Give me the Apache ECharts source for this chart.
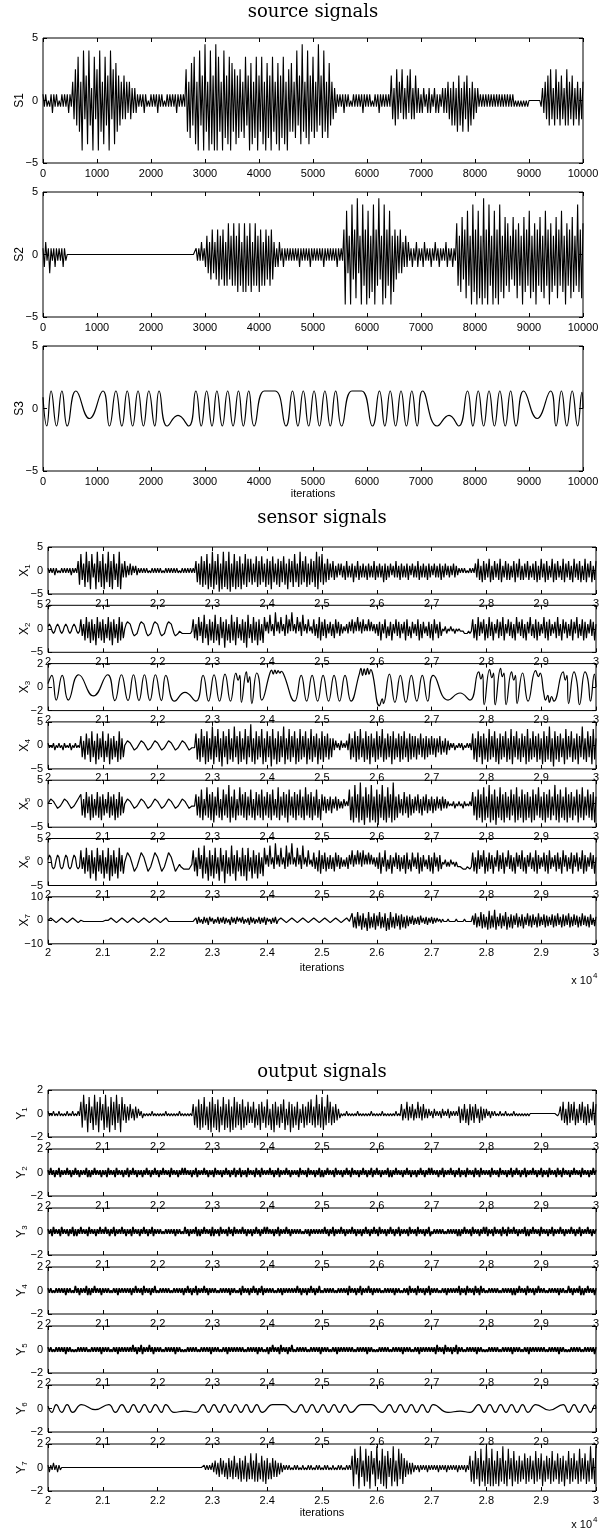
<!DOCTYPE html>
<html>
<head>
<meta charset="utf-8">
<script src="https://cdn.jsdelivr.net/npm/echarts@6/dist/echarts.min.js"></script>
<style>
  html, body { margin: 0; padding: 0; background: #fff; }
  #chart { width: 604px; height: 1529px; }
</style>
</head>
<body>
<div id="chart"></div>
<script>
// Dense signals: one char per sample (25 iterations apart).
// '0'..'9' = +0..+9 steps, 'a'..'i' = -1..-9 steps.
var S1 = ["1a1a0a1b1a1a0a1a1a1b1a", "3c5d", "7e3h8c4g8d2h7c5h8e3g7d4h8c5g6e", "4d3c4c3b3c2b2b",
  "1a1a1b1a0a1a1a1b1a1a0a1a1a1a1b1a1a1a",
  "5e3f6d7g3h8d4h9e3h8g4h9h7e3h8f4g7h6e5g4f",
  "5e3f7d4h6g3f7h4e7g3h6f4h7e3g6h4f7g3h5e",
  "6e3f8d4g9e3f8g4e7f3e9d4f8e3f6d", "3c2b",
  "1a1a1b1a1a0a1a1a1a1b1a1a1a0a1a1b1a1a1a1a",
  "4c2d5c3b5c2c4b5c2c4b", "2b1b2a1b2b1a2b1b1a2b", "2b3c2d3d2e4d2e3c4e2d3c2b2a",
  "1a1a1a1a1a1a1a1a1a1a1a1a1a0a0a0a0a0a00000000",
  "0a2b3c4d5c2d5c3d4c2d5d3c4d2c3d2c3"].join("");

var S2 = ["1b2a1c1a1b1a1a1b1a",
  "000000000000", "000000000000", "000000000000", "000000000000",
  "000000000000", "000000000000", "000000000000", "000000000000",
  "1a1a2a1b",
  "3c2d4c2d4e3d4e2e5d3e5e3f5e2f5f3e5f2e5e3f4e2e4d3e4d",
  "2b1b2a1b1a1a",
  "1a1a1a1b1a1a1a1b1a1a1a1a1b1a1a1a1a1b1a1a",
  "4h7c3h8d4g9c3h8e4h7g3f8h4e9d3h8g4e7h3f",
  "4d3c4c2b3b",
  "2a1b1a2b1a1b2a1a1b1a2a1b1a1a2b1a1b1a",
  "5e3f6d4g7e3h8f4h7g3h9g4h8e3h7g4h8f3g6e",
  "5f3d6e4g5e3h6f4e7g3f5h4e6f3g7e4h5f3e6g4e7f3h5e4g6f3e8f4g5"].join("");

// S3: extrema of the slow source [iteration, value]
var S3 = [[0, 0.9], [70, -1.4], [150, 1.4], [250, -1.4], [350, 1.4], [450, -1.4], [610, 1.4],
  [860, -0.8], [1110, 1.4], [1230, -1.4], [1350, 1.4], [1460, -1.4], [1560, 1.4], [1660, -1.4],
  [1760, 1.4], [1860, -1.4], [1960, 1.4], [2070, -1.4], [2150, 1.4], [2300, -1.4], [2500, -0.55],
  [2700, -1.4], [2830, 1.4], [2930, -1.4], [3030, 1.4], [3130, -1.4], [3220, 1.4], [3320, -1.4],
  [3420, 1.4], [3520, -1.4], [3620, 1.4], [3710, -1.4], [3810, 1.4], [3910, -1.4], [4100, 1.4],
  [4300, 1.4], [4500, -1.4], [4620, 1.4], [4720, -1.4], [4820, 1.4], [4920, -1.4], [5020, 1.4],
  [5120, -1.4], [5220, 1.4], [5320, -1.4], [5420, 1.4], [5530, -1.4], [5720, 1.4], [5900, 1.4],
  [6100, -1.4], [6230, 1.4], [6330, -1.4], [6430, 1.4], [6530, -1.4], [6630, 1.4], [6730, -1.4],
  [6830, 1.4], [6930, -1.4], [7030, 1.4], [7300, -1.4], [7520, -0.55], [7700, -1.4], [7860, 1.4],
  [7960, -1.4], [8060, 1.4], [8160, -1.4], [8260, 1.4], [8360, -1.4], [8460, 1.4], [8560, -1.4],
  [8660, 1.4], [8760, -1.4], [8900, 1.4], [9150, -0.8], [9400, 1.4], [9500, -1.4], [9600, 1.4],
  [9700, -1.4], [9800, 1.4], [9900, -1.4], [9980, 1.3], [10000, 0]];

var X1 = ["1a1a1b1a0a1a1a1a1b1a1a",
  "4f7d3g8e4h7c3h8e4g7h3e8g4h7d3g8h",
  "3c4c2b3b2a2b",
  "1a1a1a1a0a1a1a1a1a0a1a1a1a1a1a0a1a1a1a1a1a",
  "4e3f6g4f7h3g8h4f7i3h8g4h8i3g7h4g6h3f7g5e",
  "5f3e6g4f6e3g5f4h6e3f5g4e6f3h5e4g7e3g8f4e6g3f5e4g8h6e",
  "7f3e5d3c4d2c3b",
  "3c2d4c2c3e2c4d2c3c2d3c2c4d2c3c2e3d2c3b2c4c2d3c2c3d2b3c2c4d2c3c2d3c2b3c2c3d2c3b2c2b3c2b",
  "1a1a1a0a1a1a",
  "3c5d2e4d3c5e2d4c3d5e2c4d3d2c4e3c5d2d3c4d2c3d4e2d5c3e4d2c5e3d4c2d5e3c4d2e5c3d4e2d5e3c4e2d4"].join("");

var X2 = ["121aba121aba121aba121aba",
  "4c2e5d3f4e2g5d3e4f2d5e3g4d2f5e3d",
  "023320bccb023320bccb023320bccb023320bccbaabbbbbbba",
  "4d2e5c3f6d2g4e3f6e2g5d3h4e2f6e3g5d2e4f3h6d2f5e3g4e2f",
  "5a3b6a2c7a3b5a2c6b4a7a2b5a3c6a2b4a1b",
  "4c2d5e3c4d2b3c2d4b3c2b1a2b",
  "3a4b3a5a3b4a2a4a3a2b",
  "2c3e2b4d1c3e2b4c3d2b3e4c1d3b2c4e2d3b1c3d2e4b2d3c",
  "0a1b0a1a0b0a0aaabbbaba",
  "4d2e5c3b4e2d5c3e2b4d3c5e2b4c3d2e5b3c4d2e3b5c2d4e3c2b5d3e4c2b3d5c2e4b3d2c4e3b5d2c4e3d2b4c3e2"].join("");

var X3 = [[20000, 0.3], [20070, 1.0], [20150, -1.1], [20260, 1.0], [20370, -1.1], [20560, 1.05],
  [20830, -0.75], [21090, 1.05], [21220, -1.15], [21340, 1.05], [21460, -1.15], [21560, 1.05],
  [21660, -1.15], [21760, 1.05], [21860, -1.15], [21960, 1.05], [22070, -1.15], [22150, 1.0],
  [22310, -1.2], [22500, -0.45], [22700, -1.2], [22830, 1.0], [22930, -1.2], [23030, 1.05],
  [23130, -1.2], [23230, 1.1], [23330, -1.2], [23430, 1.2], [23470, 0.6], [23500, 1.0],
  [23530, -1.3], [23620, 1.3], [23650, 0.4], [23680, 0.9], [23720, -1.4], [23810, 1.2],
  [23850, 0.7], [23900, -1.1], [24050, 1.2], [24080, 1.45], [24110, 1.1], [24140, 1.45],
  [24170, 1.15], [24200, 1.4], [24230, 1.2], [24260, 1.35], [24300, 1.1], [24500, -1.2],
  [24620, 1.0], [24720, -1.2], [24820, 1.0], [24920, -1.2], [25020, 1.0], [25120, -1.2],
  [25220, 1.0], [25320, -1.2], [25420, 1.0], [25530, -1.2], [25680, 1.1], [25710, 1.6],
  [25740, 1.0], [25770, 1.55], [25800, 1.05], [25830, 1.6], [25860, 1.1], [25890, 1.5],
  [25920, 1.2], [26050, -1.6], [26100, -1.0], [26120, -1.4], [26230, 1.1], [26330, -1.3],
  [26430, 1.0], [26530, -1.3], [26630, 1.0], [26730, -1.2], [26830, 1.0], [26930, -1.2],
  [27030, 1.0], [27300, -1.1], [27520, -0.5], [27700, -1.1], [27860, 1.3], [27900, 0.7],
  [27930, 1.1], [27960, -1.5], [28060, 1.5], [28100, 0.8], [28130, 1.2], [28160, -1.5],
  [28260, 1.6], [28290, 0.9], [28320, 1.2], [28360, -1.5], [28460, 1.3], [28500, 0.6],
  [28530, 1.0], [28560, -1.4], [28660, 1.2], [28760, -1.2], [28900, 1.4], [28950, 0.9],
  [28980, 1.2], [29050, -0.6], [29080, -1.1], [29120, -0.7], [29150, -1.3], [29190, -0.8],
  [29230, -1.2], [29400, 1.3], [29440, 0.6], [29470, 1.0], [29500, -1.4], [29600, 1.3],
  [29650, 0.5], [29700, -1.5], [29800, 1.3], [29850, 0.7], [29900, -1.2], [29970, 1.1],
  [30000, 0]];

var X4 = ["1a0a1b0a1a0b1a0a1b0a1a0a",
  "4e2f5d3g6e2h5f3e6g2e5h3f4e2g6f3e",
  "012210abba012210abba012210abba012210abba012210abbaaa",
  "5f3g7e4h6g3f8h4e7g3i6e4h7f3g8e4h6g3f7h4e9g3h6f4e7h3g6e4i7f3h6g4e8h3f7g4e6h3g7f4e6h3f7g4e5h3f6g4e5f3e",
  "3b2a1b2a1a2b",
  "5f3e6g4f7e3g6f4h5e3g6f4e7g3f5e4h6f3e5g4f6e3g5f4e4f3d5e3f4e3d4d3e3c4d2c3d2b",
  "1a1b0a1a1b0a1a1b",
  "5f3g6e4h5f3g7f4e6g3h5f4e6g3f7h4e6f3g5e4h7g3f6e4g5f3h6g4f8g3i6f4g5e3h7f4e6g3f5h4e8f3g6e4h7f3"].join("");

var X5 = ["012210abba012210abba0122",
  "4e2f5d3g4f2e5f3g4e2d5f3e4g2f5e3d",
  "012210abba012210abba012210abba012210abba012210abbaaa",
  "4e3f6g2e7f4g5h3e7f2g6e4f8h3f6g2e7e4f5g3e6f2g5e4f6g3e5f4g6e2f7g3e5f4h6e3f5g4e6f3g7e4f5g3e6f2g",
  "4c3d2c3d2b3c2b1b2a1a",
  "6g3h8f4h9g3i7f4h8g3h6i4f8g3h7f4h9g3f",
  "4d2e5d3f4e2d3c4d2e3c4d2c3d2c3b2c3b2b",
  "1a0a1b0a1a0b1a0a1a",
  "5e3g6f4h7g3f8h4g6i3f7g4h5f3g6e4h7g3f6h4g5f3h6g4e7f3g5h4f6g3e8g4h6f3g7h4f5g3e6h4f7g3e6f4g5h3"].join("");

var X6 = ["132bcb132bcb132bcb132bcb",
  "5c2e6d3g5e2h6d3e5g2e6h3f5e2g6d3e",
  "024420bddb024420bddb024420bddb024420bddbabbcccccba",
  "5d2f6c3g7e2h5f3g6e2h6d3i5e2f7e3h5d2f6f3h6d2g5e3g4e2f",
  "6a3b7a2c8a3b6a2c7b4a8a2b6a3c7a2b5a1b",
  "4c2d5e3c4d2c3c2d4b3c2b1b2c",
  "3a5b3a5a4b5a3a4a3a2b",
  "2c4e2b5d1c3e2b4c3d2c3e4c1d4b2c4e2d3b1c3d2e4b2d3c",
  "0a1b0b1a0b0bbbbcccbbcb",
  "4d2e5c3b5e2d4c3e2b5d3c4e2b5c3d2e4b3c5d2e3b4c2d5e3c2b4d3e5c2b3d4c2e5b3d2c4e3b4d2c5e3d2b4c3e2"].join("");

var X7 = ["01210aba01210aba01210aba",
  "00aaaaaaaaaaaaaaaa00",
  "01210aba01210aba01210aba01210aba01210aba0121",
  "aaaaaaaaaaaaaaaaaaaa",
  "2c3b1c3b2d3a2c1b3c2b3c2b1d3b2c3a2b3c1b2d3b2c1b3c2b3d2a1c2b3c",
  "01210aba01210aba01210aba01210aba01210aba01210aba0121aa",
  "6f3g7e4h6f2i7g3f6h4e7g3f6i2h7f3g6e4h5f3g4e",
  "3c4d2c3d4b2c3d2b3c2b2a1b1a",
  "0a1a0a0a1a0a0a1a0a0a",
  "4d6f3e7g5f3h8g4f9h3e6g4e7h3f5g4d6f3e5g3d6e4f5d3f6e3d5f4e3d5f4e6d3f5e4d6f3e5d4f3e6d4e3f5d2e3"].join("");

var Y1 = ["1a0a1a0a1a0a0a1a0a1a0a1a",
  "5f8c4h7d3g8e5h7c4g8f3h7e5g8d4h7c",
  "4d3c4b2c3b2a1b",
  "0a0a0a1a0a0a0a0a1a0a0a0a0a1a0a0a0a0a",
  "4e3f6g4f7e3g5h7f4g6h3e7g4f6h3g7f5e4g6f3e5d",
  "3d5f2e4g5d3f6e2g4h5e3f4d6g2e5h4f3e5g2d4f3e5d",
  "6e3f8e4f7g3e8d5e3d4c2b",
  "0a0a1a0a0a0a1a0a0a0a0a1a0a0a0a1a0a0a0a0a1a0a",
  "4c2b5c3b4c2b5b3c4b2b",
  "2a1b2a1a1b2a1a2b1a1a1a",
  "3d2c4d2e4c3d4b2d3c2b2a1b",
  "1a1a0a1a0a1a0a0a1a0a0a0a0a0a00000000000000000000a0",
  "3c5d2e5d4c5e2d4c5d3e4d2c5e4"].join("");

// output noise bands
var NA = "1a2a1b1a2b1a1a2a1b1a", NB = "2a1b1a1a2b1b1a2a1a1b", NC = "1a1b2a1a1b2a1a1b1a2b",
  ND = "1a2a1b1a1b1a2a1b1a2a", NE = "1b1a2a1a1b2a1a1b1a2a", NF = "2a1a1b1a2b1a1a2a1b1a",
  NG = "1b2a1a1b1a2a1b1a2b1a", NH = "2b1a1b2a1a1b2a1b2a1a", NI = "1a1a0a1a1a1a1b1a1a0a",
  NJ = "0a1a1a1a1a0a1a1a1a1b", NK = "1a1a1a0a1a1b1a1a1a1a";

var Y2 = [NA, NB, NC, ND, NE, NF, NG, NH, NA, NC, NE, NG, NB, ND, NF, NH, NC, NA, NH, NE, "1"].join("");
var Y3 = [NC, NE, NA, NG, NI, NB, NH, ND, NF, NK, NA, ND, NG, NC, NJ, NE, NH, NB, NF, NA, "1"].join("");
var Y4 = [NI, NB, NK, NE, NJ, NA, NI, NG, NK, ND, NJ, NF, NI, NC, NK, NH, NJ, NE, NI, NB, "1"].join("");
var Y5 = [NI, NJ, NK, NA, NI, NJ, NK, NI, NE, NJ, NK, NI, NJ, NK, NC, NI, NJ, NK, NI, NJ, "1"].join("");

var Y6 = [[20000, 0.2], [20070, -0.33], [20150, 0.33], [20250, -0.33], [20350, 0.33],
  [20450, -0.33], [20610, 0.33], [20860, -0.1], [21110, 0.33], [21230, -0.33], [21350, 0.33],
  [21460, -0.33], [21560, 0.33], [21660, -0.33], [21760, 0.33], [21860, -0.33], [21960, 0.33],
  [22070, -0.33], [22150, 0.33], [22300, -0.33], [22500, -0.22], [22700, -0.33], [22830, 0.33],
  [22930, -0.33], [23030, 0.33], [23130, -0.33], [23220, 0.33], [23320, -0.33], [23420, 0.33],
  [23520, -0.33], [23620, 0.33], [23710, -0.33], [23810, 0.33], [23910, -0.33], [24100, 0.33],
  [24300, 0.33], [24500, -0.33], [24620, 0.33], [24720, -0.33], [24820, 0.33], [24920, -0.33],
  [25020, 0.33], [25120, -0.33], [25220, 0.33], [25320, -0.33], [25420, 0.33], [25530, -0.33],
  [25720, 0.33], [25900, 0.33], [26100, -0.33], [26230, 0.33], [26330, -0.33], [26430, 0.33],
  [26530, -0.33], [26630, 0.33], [26730, -0.33], [26830, 0.33], [26930, -0.33], [27030, 0.33],
  [27300, -0.33], [27520, -0.22], [27700, -0.33], [27860, 0.33], [27960, -0.33], [28060, 0.33],
  [28160, -0.33], [28260, 0.33], [28360, -0.33], [28460, 0.33], [28560, -0.33], [28660, 0.33],
  [28760, -0.33], [28900, 0.33], [29150, -0.15], [29400, 0.33], [29500, -0.33], [29600, 0.33],
  [29700, -0.33], [29800, 0.33], [29900, -0.33], [29980, 0.3], [30000, 0]];

var Y7 = ["1b1a2a1b1a",
  "0000000000", "0000000000", "0000000000", "0000000000", "0000000000",
  "0000000000", "0000000000", "0000000000", "0000000000", "0000000000", "0000",
  "1a1a1a",
  "2b3c2d4c3d2e4d3e5d2e4f3e5f2e6e3f6f2e5f3g4e2e4d3d2c",
  "2b1a1a",
  "1a0a1a1a0a1a0a1a1a0a1a1a0a1a1a0a1a0a1a1a0a1a1a",
  "5h8c4i9d3h8f5i7c4h9e3g8h5i7d4h9f3h8e6g",
  "4d3c2c2b",
  "1a1b1a1a1b1a1a1a1b1a1a1b1a1a1a1b1a1a1b1a",
  "5f3g7e4h8f3h9g4h8h3g7h4f9g3h8e4h7f3g",
  "5f3e6g4f5e3g7f4e6h3f5e4g7f3e6g4f5h3e7g4f6e3g8f4e6g3f9e4g9"].join("");

var FONT = '"Liberation Sans", Arial, Helvetica, sans-serif';
var SERIF = '"DejaVu Serif", "Liberation Serif", serif';

function decode(str, step, x0, x1) {
  var out = [];
  var n = str.length - 1;
  for (var k = 0; k < str.length; k++) {
    var c = str.charAt(k);
    var v = (c >= "0" && c <= "9") ? +c : -(c.charCodeAt(0) - 96);
    out.push([x0 + (x1 - x0) * k / n, v * step]);
  }
  return out;
}

var panels = [
  { group: "S", label: "S1", data: decode(S1, 0.5, 0, 10000), ymax: 5 },
  { group: "S", label: "S2", data: decode(S2, 0.5, 0, 10000), ymax: 5 },
  { group: "S", label: "S3", data: S3, ymax: 5, smooth: true },
  { group: "X", label: "X", sub: "1", data: decode(X1, 0.5, 20000, 30000), ymax: 5 },
  { group: "X", label: "X", sub: "2", data: decode(X2, 0.5, 20000, 30000), ymax: 5 },
  { group: "X", label: "X", sub: "3", data: X3, ymax: 2, smooth: true },
  { group: "X", label: "X", sub: "4", data: decode(X4, 0.5, 20000, 30000), ymax: 5 },
  { group: "X", label: "X", sub: "5", data: decode(X5, 0.5, 20000, 30000), ymax: 5 },
  { group: "X", label: "X", sub: "6", data: decode(X6, 0.5, 20000, 30000), ymax: 5 },
  { group: "X", label: "X", sub: "7", data: decode(X7, 0.5, 20000, 30000), ymax: 10 },
  { group: "Y", label: "Y", sub: "1", data: decode(Y1, 0.2, 20000, 30000), ymax: 2 },
  { group: "Y", label: "Y", sub: "2", data: decode(Y2, 0.2, 20000, 30000), ymax: 2, heavy: true },
  { group: "Y", label: "Y", sub: "3", data: decode(Y3, 0.2, 20000, 30000), ymax: 2, heavy: true },
  { group: "Y", label: "Y", sub: "4", data: decode(Y4, 0.2, 20000, 30000), ymax: 2, heavy: true },
  { group: "Y", label: "Y", sub: "5", data: decode(Y5, 0.2, 20000, 30000), ymax: 2, heavy: true },
  { group: "Y", label: "Y", sub: "6", data: Y6, ymax: 2, smooth: true },
  { group: "Y", label: "Y", sub: "7", data: decode(Y7, 0.2, 20000, 30000), ymax: 2 }
];

var boxes = {
  S: { left: 43, width: 540, top: 38, pitch: 154, height: 125, nameGap: 17, labelGap: 5, iterGap: 17, lw: 1.1 },
  X: { left: 48, width: 548, top: 547, pitch: 58.3, height: 47, nameGap: 16, labelGap: 4, iterGap: 19, lw: 1.2 },
  Y: { left: 48, width: 548, top: 1090, pitch: 59, height: 47, nameGap: 19, labelGap: 4, iterGap: 16, lw: 1.1 }
};

var grids = [], xAxes = [], yAxes = [], series = [];
var counters = { S: 0, X: 0, Y: 0 };

function minusLabel(v) {
  return v < 0 ? "\u2212" + (-v) : String(v);
}
function plainLabel(v) {
  return String(v);
}
function e4Label(v) {
  return (v / 10000).toFixed(1).replace(/\.0$/, "");
}

panels.forEach(function (p, i) {
  var b = boxes[p.group];
  var k = counters[p.group]++;
  var isLast = (p.group === "S" && k === 2) || (p.group !== "S" && k === 6);
  grids.push({
    left: b.left, width: b.width, top: b.top + b.pitch * k, height: b.height,
    show: true, borderColor: "#000", borderWidth: 1, backgroundColor: "transparent",
    containLabel: false, outerBoundsMode: "none"
  });
  var tick = { show: true, inside: true, length: 4, lineStyle: { color: "#000", width: 1 } };
  var line = { show: false, onZero: false };
  var xmin = p.group === "S" ? 0 : 20000;
  xAxes.push({
    gridIndex: i, type: "value", min: xmin, max: xmin + 10000, interval: 1000,
    axisLine: line, axisTick: tick, splitLine: { show: false },
    axisLabel: {
      color: "#000", fontSize: 11, fontFamily: FONT, margin: b.labelGap,
      showMinLabel: true, showMaxLabel: true, hideOverlap: false,
      formatter: p.group === "S" ? plainLabel : e4Label
    },
    name: isLast ? "iterations" : "", nameLocation: "middle", nameGap: b.iterGap,
    nameMoveOverlap: false,
    nameTextStyle: { color: "#000", fontSize: 11, fontFamily: FONT, verticalAlign: "top" }
  });
  xAxes.push({
    gridIndex: i, type: "value", position: "top", min: xmin, max: xmin + 10000, interval: 1000,
    axisLine: line, axisTick: tick, axisLabel: { show: false }, splitLine: { show: false }
  });
  var name = p.sub ? "{m|" + p.label + "}{s|" + p.sub + "}" : p.label;
  yAxes.push({
    gridIndex: i, type: "value", min: -p.ymax, max: p.ymax, interval: p.ymax,
    axisLine: line, axisTick: tick, splitLine: { show: false },
    axisLabel: {
      color: "#000", fontSize: 11, fontFamily: FONT, margin: 5,
      showMinLabel: true, showMaxLabel: true, hideOverlap: false, formatter: minusLabel
    },
    name: name, nameLocation: "middle", nameRotate: 90, nameGap: b.nameGap,
    nameMoveOverlap: false,
    nameTextStyle: {
      color: "#000", fontSize: 12, fontFamily: FONT,
      rich: {
        m: { fontSize: 12, fontFamily: FONT, color: "#000" },
        s: { fontSize: 8, fontFamily: FONT, color: "#000", padding: [7, 0, 0, 0] }
      }
    }
  });
  yAxes.push({
    gridIndex: i, type: "value", position: "right", min: -p.ymax, max: p.ymax, interval: p.ymax,
    axisLine: line, axisTick: tick, axisLabel: { show: false }, splitLine: { show: false }
  });
  series.push({
    type: "line", xAxisIndex: 2 * i, yAxisIndex: 2 * i, data: p.data,
    showSymbol: false, symbol: "none", smooth: p.smooth ? 0.5 : false,
    lineStyle: { color: "#000", width: p.smooth ? 1.2 : (p.heavy ? 1.6 : b.lw) },
    silent: true, animation: false
  });
});

function heading(text, x, y) {
  return {
    type: "text", x: x, y: y,
    style: { text: text, font: "18px " + SERIF, fill: "#000", textAlign: "center", textVerticalAlign: "middle" }
  };
}
function times(x, y) {
  return [
    { type: "text", x: x, y: y, style: { text: "x 10", font: "11px " + FONT, fill: "#000", textAlign: "right", textVerticalAlign: "middle" } },
    { type: "text", x: x + 1, y: y - 5, style: { text: "4", font: "8px " + FONT, fill: "#000", textAlign: "left", textVerticalAlign: "middle" } }
  ];
}

var chart = echarts.init(document.getElementById("chart"), null, { renderer: "canvas" });
chart.setOption({
  animation: false,
  backgroundColor: "#fff",
  grid: grids,
  xAxis: xAxes,
  yAxis: yAxes,
  series: series,
  graphic: [
    heading("source signals", 313, 12),
    heading("sensor signals", 322, 518),
    heading("output signals", 322, 1072)
  ].concat(times(592, 981), times(592, 1525))
});
</script>
</body>
</html>
